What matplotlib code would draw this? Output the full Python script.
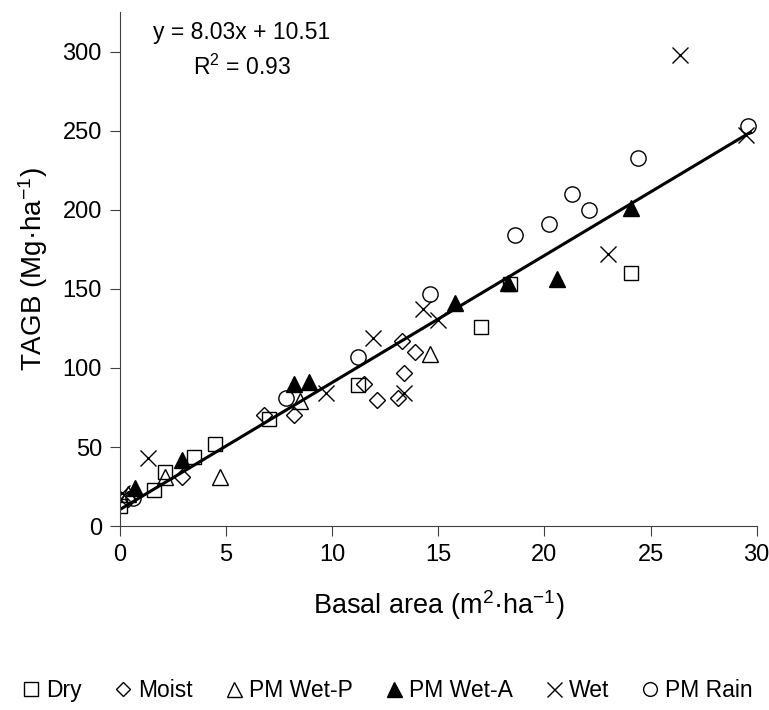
import matplotlib
matplotlib.use("Agg")
import matplotlib.pyplot as plt
import numpy as np

plt.rcParams['font.family'] = ['Liberation Sans', 'DejaVu Sans']
plt.rcParams['mathtext.default'] = 'regular'

# basal area (m2/ha) and TAGB (Mg/ha) per forest type
dry_x = [0.0, 1.6, 2.1, 3.5, 4.5, 7.0, 11.2, 17.0, 18.4, 24.1]
dry_y = [13, 23, 34, 44, 52, 68, 89, 126, 153, 160]

moist_x = [0.4, 2.9, 6.8, 8.2, 11.5, 12.1, 13.1, 13.3, 13.4, 13.9]
moist_y = [17, 31, 70, 70, 90, 80, 81, 117, 97, 110]

wetp_x = [0.4, 2.1, 4.7, 8.5, 14.6]
wetp_y = [20, 31, 31, 79, 109]

weta_x = [0.7, 2.9, 8.2, 8.9, 15.8, 18.3, 20.6, 24.1]
weta_y = [24, 42, 90, 91, 141, 154, 156, 201]

wet_x = [0.1, 1.3, 9.7, 11.9, 13.4, 14.3, 15.0, 23.0, 26.4, 29.5]
wet_y = [21, 43, 84, 119, 84, 137, 130, 172, 298, 247]

rain_x = [0.6, 7.8, 11.2, 14.6, 18.6, 20.2, 21.3, 22.1, 24.4, 29.6]
rain_y = [18, 81, 107, 147, 184, 191, 210, 200, 233, 253]

slope = 8.03
intercept = 10.51
fit_range = [0.0, 29.7]

fig = plt.figure(figsize=(7.69, 7.10), dpi=100)
ax = fig.add_axes([0.156, 0.259, 0.828, 0.724])

open_kw = dict(linestyle='none', markerfacecolor='none', markeredgecolor='black', markeredgewidth=1.0)
ax.plot(dry_x, dry_y, marker='s', markersize=10.5, label='Dry', **open_kw)
ax.plot(moist_x, moist_y, marker='D', markersize=8, label='Moist', **open_kw)
ax.plot(wetp_x, wetp_y, marker='^', markersize=12, label='PM Wet-P', **open_kw)
ax.plot(weta_x, weta_y, marker='^', markersize=12, linestyle='none', color='black', label='PM Wet-A')
ax.plot(wet_x, wet_y, marker='x', markersize=12, markeredgewidth=1.0, linestyle='none', color='black', label='Wet')
ax.plot(rain_x, rain_y, marker='o', markersize=11, label='PM Rain', **open_kw)

fx = np.array(fit_range)
ax.plot(fx, slope * fx + intercept, color='black', linewidth=2.2)

ax.text(5.75, 312, "y = 8.03x + 10.51", fontsize=16.5, ha='center', va='center')
ax.text(5.75, 290, "R$^{2}$ = 0.93", fontsize=16.5, ha='center', va='center')

ax.set_xlim(0, 30)
ax.set_ylim(0, 325)
ax.set_xticks(range(0, 31, 5))
ax.set_yticks(range(0, 301, 50))
for s in ['top', 'right']:
    ax.spines[s].set_visible(False)
for s in ['left', 'bottom']:
    ax.spines[s].set_color('#404040')
ax.tick_params(direction='out', length=7, color='#404040', labelsize=17, pad=6)
ax.set_xlabel("Basal area (m$^{2}$·ha$^{-1}$)", fontsize=19.5)
ax.set_ylabel("TAGB (Mg·ha$^{-1}$)", fontsize=20)
ax.xaxis.set_label_coords(0.5, -0.12)
ax.yaxis.set_label_coords(-0.11, 0.5)

fig.legend(loc='center', bbox_to_anchor=(0.504, 0.028), ncol=6, frameon=False,
           fontsize=16.5, markerscale=0.9, handlelength=0.8, handletextpad=0.25,
           columnspacing=1.4)

fig.savefig("out.png", dpi=100)
